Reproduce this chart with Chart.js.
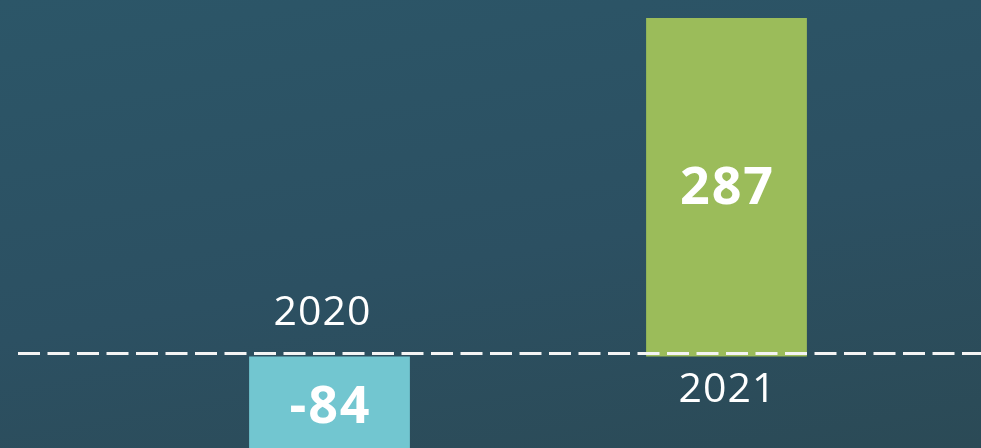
<!DOCTYPE html>
<html>
<head>
<meta charset="utf-8">
<script src="https://cdn.jsdelivr.net/npm/chart.js@4"></script>
<style>
  html, body { margin: 0; padding: 0; }
  body { width: 981px; height: 448px; overflow: hidden;
    background: linear-gradient(170deg, #2c5668 0%, #2c5062 55%, #2b4a56 100%); }
  #wrap { position: relative; width: 981px; height: 448px; }
</style>
</head>
<body>
<div id="wrap"><canvas id="c"></canvas></div>
<script>
const categories = ['2020', '2021'];
const values = [-84, 287];
const barColors = ['#72c6d0', '#9bbc5a'];

const labelPlugin = {
  id: 'labels',
  afterDatasetsDraw(chart) {
    const ctx = chart.ctx;
    const y = chart.scales.y;
    const meta = chart.getDatasetMeta(0);
    const zeroY = y.getPixelForValue(0);
    const lineY = Math.round(zeroY - 3) + 0.5;
    ctx.save();
    // dashed zero line
    ctx.strokeStyle = '#f4f4f4';
    ctx.lineWidth = 3;
    ctx.setLineDash([22, 7.5]);
    ctx.beginPath();
    ctx.moveTo(18, lineY);
    ctx.lineTo(chart.width, lineY);
    ctx.stroke();
    ctx.setLineDash([]);
    ctx.fillStyle = '#ffffff';
    ctx.textAlign = 'center';
    meta.data.forEach((bar, i) => {
      const v = values[i];
      // value label at middle of bar
      ctx.font = '700 52px "Open Sans", sans-serif';
      ctx.letterSpacing = '2px';
      ctx.textBaseline = 'middle';
      const midY = y.getPixelForValue(v / 2);
      ctx.fillText(String(v), bar.x + 1, midY + 2);
      // category label on opposite side of zero line
      ctx.font = '400 41px "Open Sans", sans-serif';
      ctx.letterSpacing = '1px';
      if (v >= 0) {
        ctx.textBaseline = 'top';
        ctx.fillText(categories[i], bar.x + 1, lineY + 16);
      } else {
        ctx.textBaseline = 'alphabetic';
        ctx.fillText(categories[i], bar.x - 7, lineY - 29);
      }
    });
    ctx.restore();
  }
};

new Chart(document.getElementById('c'), {
  type: 'bar',
  data: {
    labels: categories,
    datasets: [{
      data: values,
      backgroundColor: barColors,
      borderWidth: 0,
      barPercentage: 0.405,
      categoryPercentage: 1
    }]
  },
  options: {
    responsive: true,
    maintainAspectRatio: false,
    animation: false,
    layout: { padding: { left: 131, right: 56, top: 0, bottom: 0 } },
    plugins: { legend: { display: false }, tooltip: { enabled: false } },
    scales: {
      x: { display: false },
      y: { display: false, min: -77.6, max: 302.3 }
    }
  },
  plugins: [labelPlugin]
});
</script>
</body>
</html>
